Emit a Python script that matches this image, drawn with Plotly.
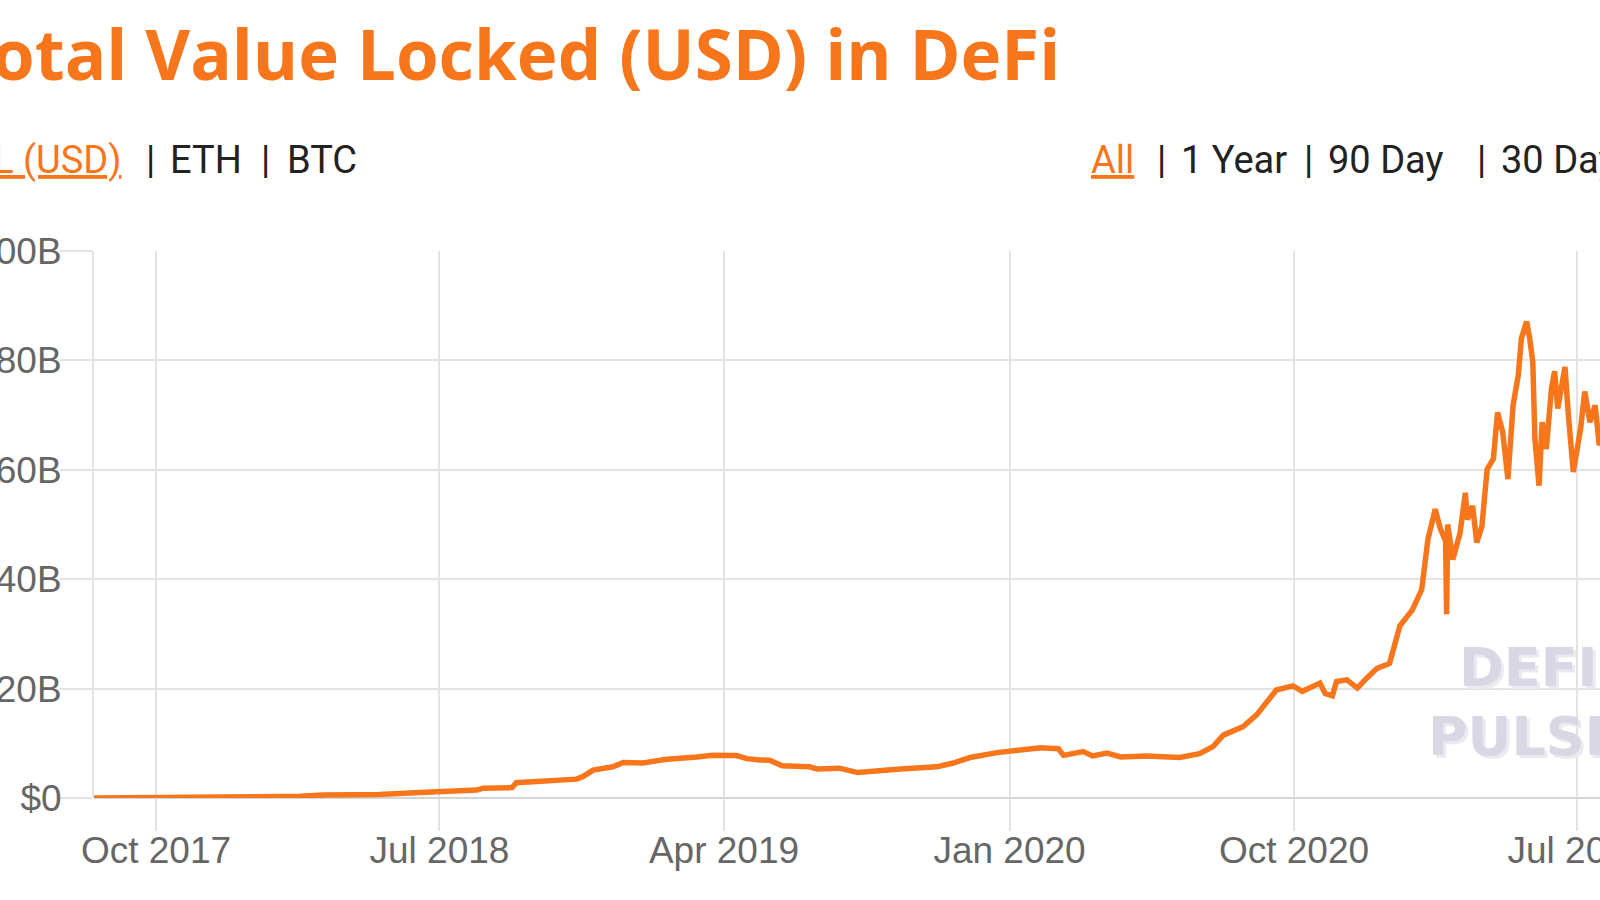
import plotly.graph_objects as go

# ---- data (TVL in billions USD) ----
dates = [
    "2017-08-02", "2017-09-25", "2017-12-22", "2018-02-17", "2018-03-11", "2018-05-04",
    "2018-06-12", "2018-06-28", "2018-08-06", "2018-08-12", "2018-09-09", "2018-09-13",
    "2018-11-10", "2018-11-16", "2018-11-26", "2018-12-15", "2018-12-25", "2019-01-13",
    "2019-02-05", "2019-03-06", "2019-03-21", "2019-04-13", "2019-04-23", "2019-05-05",
    "2019-05-15", "2019-05-27", "2019-06-22", "2019-06-30", "2019-07-21", "2019-07-31",
    "2019-08-08", "2019-09-18", "2019-10-23", "2019-11-07", "2019-11-24", "2019-12-20",
    "2020-01-08", "2020-01-31", "2020-02-17", "2020-02-22", "2020-03-12", "2020-03-21",
    "2020-04-04", "2020-04-17", "2020-05-12", "2020-05-29", "2020-06-13", "2020-07-02",
    "2020-07-15", "2020-07-25", "2020-08-13", "2020-08-26", "2020-09-05", "2020-09-14",
    "2020-09-30", "2020-10-09", "2020-10-26", "2020-10-31", "2020-11-07", "2020-11-11",
    "2020-11-21", "2020-12-01", "2020-12-10", "2020-12-20", "2021-01-01", "2021-01-08",
    "2021-01-11", "2021-01-23", "2021-02-01", "2021-02-07", "2021-02-14", "2021-02-19",
    "2021-02-24", "2021-02-25", "2021-02-26", "2021-03-03", "2021-03-10", "2021-03-15",
    "2021-03-17", "2021-03-22", "2021-03-26", "2021-03-31", "2021-04-05", "2021-04-11",
    "2021-04-15", "2021-04-20", "2021-04-25", "2021-04-30", "2021-05-05", "2021-05-08",
    "2021-05-13", "2021-05-16", "2021-05-19", "2021-05-21", "2021-05-25", "2021-05-28",
    "2021-06-01", "2021-06-06", "2021-06-09", "2021-06-12", "2021-06-19", "2021-06-22",
    "2021-06-27", "2021-07-04", "2021-07-08", "2021-07-13", "2021-07-18", "2021-07-22",
    "2021-07-26",
]
tvl_b = [
    0.01, 0.02, 0.10, 0.30, 0.55, 0.65,
    1.00, 1.15, 1.45, 1.80, 1.90, 2.80,
    3.45, 3.90, 5.10, 5.70, 6.50, 6.40,
    7.10, 7.50, 7.80, 7.75, 7.20, 6.95,
    6.90, 5.90, 5.70, 5.30, 5.45, 5.00,
    4.65, 5.30, 5.70, 6.35, 7.40, 8.30,
    8.70, 9.20, 9.00, 7.80, 8.50, 7.70,
    8.20, 7.50, 7.70, 7.50, 7.40, 8.10,
    9.40, 11.5, 13.05, 15.2, 17.6, 19.75,
    20.5, 19.5, 21.0, 19.1, 18.7, 21.3,
    21.6, 20.1, 21.9, 23.7, 24.6, 28.9,
    31.5, 34.4, 38.1, 47.3, 52.8, 49.2,
    47.0, 33.6, 50.0, 43.6, 48.5, 55.8,
    50.9, 53.4, 46.7, 49.7, 60.1, 62.0,
    70.5, 66.9, 58.3, 71.8, 77.3, 84.0,
    87.1, 84.0, 79.7, 65.7, 57.1, 68.7,
    63.8, 74.9, 78.0, 71.2, 78.8, 70.6,
    59.6, 67.5, 74.3, 68.7, 71.8, 64.5,
    66.0,
]

x_tick_vals = ["2017-10-01", "2018-07-01", "2019-04-01", "2020-01-01", "2020-10-01", "2021-07-01"]
x_tick_text = ["Oct 2017", "Jul 2018", "Apr 2019", "Jan 2020", "Oct 2020", "Jul 2021"]
y_tick_vals = [0, 20, 40, 60, 80, 100]
y_tick_text = ["$0", "$20B", "$40B", "$60B", "$80B", "$100B"]

title_text = "Total Value Locked (USD) in DeFi"
metric_tabs = ["TVL (USD)", "ETH", "BTC"]
range_tabs = ["All", "1 Year", "90 Day", "30 Day"]

ORANGE = "#f7761c"
DARK = "#222222"
GRID = "#e3e3e3"
TICKFONT = dict(family="Liberation Sans, Arial, sans-serif", size=37, color="#666666")
TABFONT = "Roboto, sans-serif"

fig = go.Figure()
fig.add_trace(go.Scatter(
    x=dates, y=tvl_b, mode="lines",
    line=dict(color=ORANGE, width=5.5),
    hoverinfo="skip", showlegend=False,
))

W, H = 1600, 900
ML, MR, MT, MB = 94, 0, 251, 102
PW = W - ML - MR
PH = H - MT - MB

def px(xp):
    return (xp - ML) / PW

def py(yp):
    return (H - MB - yp) / PH

annotations = [
    dict(text=title_text, xref="paper", yref="paper",
         x=px(1062), y=py(53), xanchor="right", yanchor="middle", showarrow=False,
         font=dict(family="Open Sans, sans-serif", size=69, color=ORANGE, weight=700)),
]

# metric selector (left) and range selector (right)
tab_y = py(160)
tab_font = dict(family=TABFONT, size=38, color=DARK)
annotations.append(dict(text="<u>" + metric_tabs[0] + "</u>", xref="paper", yref="paper",
                        x=px(123), y=tab_y, xanchor="right", yanchor="middle", showarrow=False,
                        font=dict(family=TABFONT, size=38, color=ORANGE)))
for label, xl in [("|", 144), (metric_tabs[1], 168), ("|", 259), (metric_tabs[2], 285)]:
    annotations.append(dict(text=label, xref="paper", yref="paper", x=px(xl), y=tab_y,
                            xanchor="left", yanchor="middle", showarrow=False, font=tab_font))
annotations.append(dict(text="<u>" + range_tabs[0] + "</u>", xref="paper", yref="paper",
                        x=px(1089), y=tab_y, xanchor="left", yanchor="middle", showarrow=False,
                        font=dict(family=TABFONT, size=38, color=ORANGE)))
for label, xl in [("|", 1155), (range_tabs[1], 1179), ("|", 1302), (range_tabs[2], 1326),
                  ("|", 1475), (range_tabs[3], 1499)]:
    annotations.append(dict(text=label, xref="paper", yref="paper", x=px(xl), y=tab_y,
                            xanchor="left", yanchor="middle", showarrow=False, font=tab_font))

# watermark (with faint offset copy for the outlined look)
for word, xl, yc in [("DEFI", 1457, 667), ("PULSE", 1426, 736)]:
    annotations.append(dict(text=word, xref="paper", yref="paper", x=px(xl + 3), y=py(yc + 3),
                            xanchor="left", yanchor="middle", showarrow=False,
                            font=dict(family="DejaVu Sans, sans-serif", size=54,
                                      color="#ebeaf1", weight=700)))
    annotations.append(dict(text=word, xref="paper", yref="paper", x=px(xl), y=py(yc),
                            xanchor="left", yanchor="middle", showarrow=False,
                            font=dict(family="DejaVu Sans, sans-serif", size=54,
                                      color="#d9d7e4", weight=700)))

fig.update_layout(
    width=W, height=H,
    margin=dict(l=ML, r=MR, t=MT, b=MB, pad=0, autoexpand=False),
    paper_bgcolor="white", plot_bgcolor="white",
    xaxis=dict(
        type="date", automargin=False,
        range=["2017-08-02 07:00", "2021-07-22 17:00"],
        tickvals=x_tick_vals, ticktext=x_tick_text,
        showgrid=True, gridcolor=GRID, gridwidth=2,
        ticks="outside", ticklen=32, tickwidth=2, tickcolor=GRID,
        ticklabelstandoff=-12, ticklabeloverflow="allow",
        tickfont=TICKFONT, showline=False, zeroline=False,
    ),
    yaxis=dict(
        range=[0, 100], automargin=False,
        tickvals=y_tick_vals, ticktext=y_tick_text,
        showgrid=True, gridcolor=GRID, gridwidth=2,
        ticks="outside", ticklen=32, tickwidth=2, tickcolor=GRID,
        ticklabelstandoff=-9, ticklabeloverflow="allow",
        tickfont=TICKFONT, showline=True, linecolor=GRID, linewidth=2,
        zeroline=True, zerolinecolor="#d4d4d4", zerolinewidth=2,
    ),
    annotations=annotations,
)

fig.write_html("out.html", config={"displayModeBar": False})
